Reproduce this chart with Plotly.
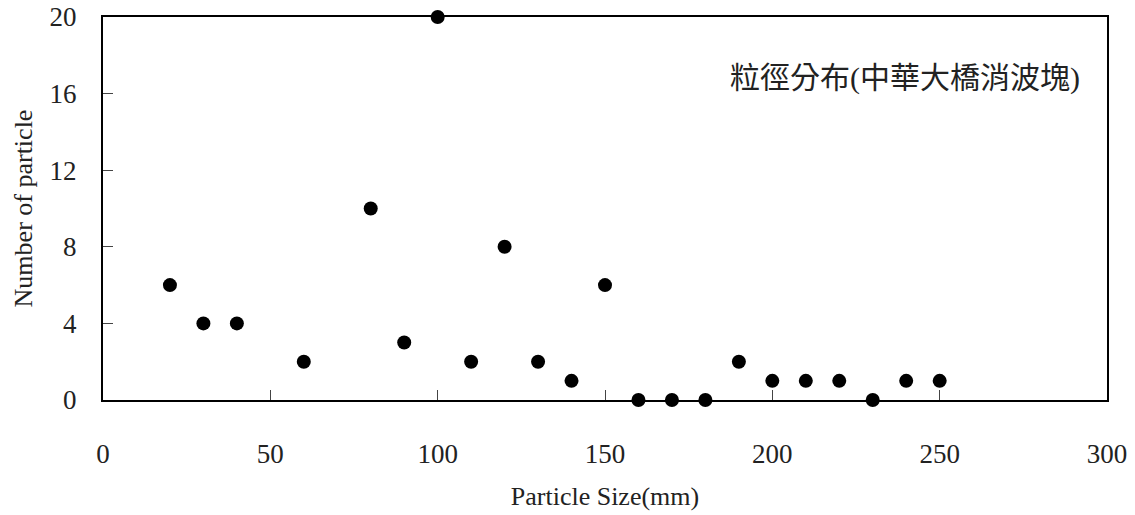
import plotly.graph_objects as go

sizes = [20, 30, 40, 60, 80, 90, 100, 110, 120, 130, 140, 150, 160, 170, 180, 190, 200, 210, 220, 230, 240, 250]
counts = [6, 4, 4, 2, 10, 3, 20, 2, 8, 2, 1, 6, 0, 0, 0, 2, 1, 1, 1, 0, 1, 1]
x_ticks = [0, 50, 100, 150, 200, 250, 300]
y_ticks = [0, 4, 8, 12, 16, 20]

FONT = "Liberation Serif, 'Noto Sans CJK TC', serif"

fig = go.Figure()
fig.add_trace(go.Scatter(
    x=sizes, y=counts, mode="markers",
    marker=dict(color="black", size=14, symbol="circle"),
    cliponaxis=False, showlegend=False,
))

fig.update_layout(
    width=1135, height=515,
    margin=dict(l=103, r=28, t=17, b=115),
    paper_bgcolor="white", plot_bgcolor="white",
    font=dict(family=FONT, size=27, color="#222"),
    annotations=[dict(
        text="粒徑分布(中華大橋消波塊)", xref="paper", yref="paper",
        x=0.975, y=0.84, xanchor="right", yanchor="middle", showarrow=False,
        font=dict(family=FONT, size=30, color="#222"),
    )],
)
fig.update_xaxes(
    range=[0, 300], tickvals=x_ticks, ticktext=[str(v) for v in x_ticks],
    ticks="inside", ticklen=10, tickwidth=1, tickcolor="#444",
    showline=True, linecolor="black", linewidth=2, mirror=True,
    showgrid=False, zeroline=False, ticklabelstandoff=29, automargin=False,
    ticklabeloverflow="allow",
    title=dict(text="Particle Size(mm)", standoff=18, font=dict(size=26)),
)
fig.update_yaxes(
    range=[0, 20], tickvals=y_ticks, ticktext=[str(v) for v in y_ticks],
    ticks="inside", ticklen=10, tickwidth=1, tickcolor="#444",
    showline=True, linecolor="black", linewidth=2, mirror=True,
    showgrid=False, zeroline=False, ticklabelstandoff=19, automargin=False,
    ticklabeloverflow="allow",
    title=dict(text="Number of particle", standoff=9, font=dict(size=26)),
)

fig.write_html("out.html", config={"displayModeBar": False},
               post_script="document.body.style.margin='0';")
